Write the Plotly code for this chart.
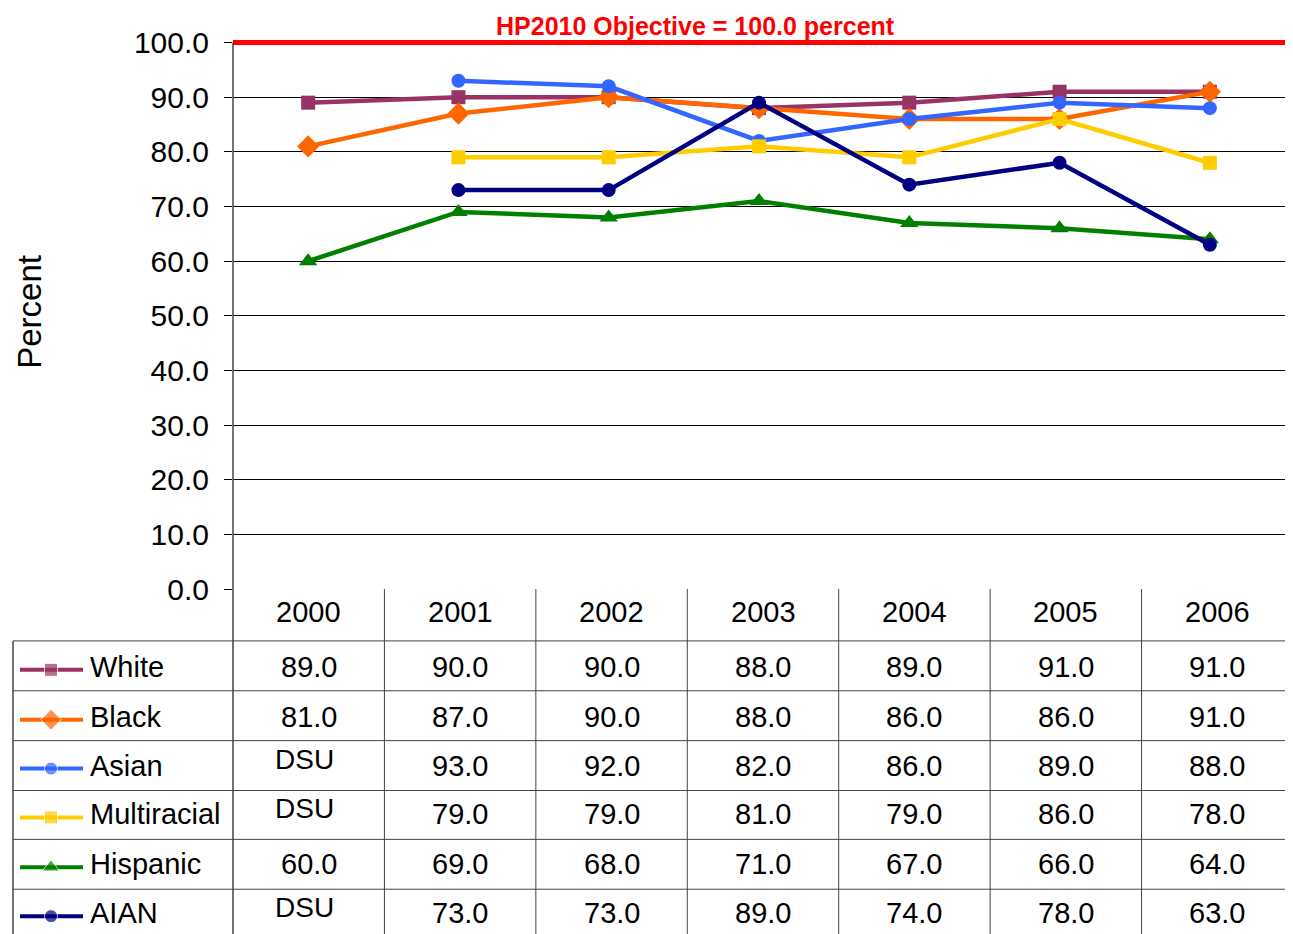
import plotly.graph_objects as go

years = ["2000", "2001", "2002", "2003", "2004", "2005", "2006"]
series_names = ["White", "Black", "Asian", "Multiracial", "Hispanic", "AIAN"]
white = [89.0, 90.0, 90.0, 88.0, 89.0, 91.0, 91.0]
black = [81.0, 87.0, 90.0, 88.0, 86.0, 86.0, 91.0]
asian = [None, 93.0, 92.0, 82.0, 86.0, 89.0, 88.0]
multiracial = [None, 79.0, 79.0, 81.0, 79.0, 86.0, 78.0]
hispanic = [60.0, 69.0, 68.0, 71.0, 67.0, 66.0, 64.0]
aian = [None, 73.0, 73.0, 89.0, 74.0, 78.0, 63.0]
objective = 100.0
y_ticks = [0, 10, 20, 30, 40, 50, 60, 70, 80, 90, 100]

series_values = [white, black, asian, multiracial, hispanic, aian]
colors = ["#993366", "#FF6600", "#3366FF", "#FFCC00", "#008000", "#000080"]
symbols = ["square", "diamond", "circle", "square", "triangle-up", "circle"]
msizes = [14, 17, 14, 14, 16, 14]

# page offset (body margin) and observed vertical mapping of the photograph
OFF = 8
VS, VB = 0.974, 8.6          # photo_y = VS * page_y + VB
W = 1293 - 2 * OFF
H = 942
PL, PR, PT, PB = 233, 1293, 40, 588
unit = (PB - PT) / 100.0
top_val = 101
top_px = PB - top_val * unit


def px(x):
    return (x - OFF) / W


def py(y):
    page_y = (y - VB) / VS
    return 1 - (page_y - OFF) / H


FONT = "Liberation Sans, Arial, sans-serif"

fig = go.Figure()
xi = list(range(len(years)))
for name, vals, c, s, ms in zip(series_names, series_values, colors, symbols, msizes):
    fig.add_trace(go.Scatter(
        x=xi, y=vals, mode="lines+markers", name=name,
        line=dict(color=c, width=4.5), marker=dict(symbol=s, size=ms, color=c),
        connectgaps=False, showlegend=False, cliponaxis=False,
        xaxis="x", yaxis="y"))

fig.add_trace(go.Scatter(x=[-0.5, 6.5], y=[objective, objective], mode="lines",
                         line=dict(color="#FF0000", width=5), showlegend=False,
                         hoverinfo="skip", xaxis="x", yaxis="y"))

shapes = []
annotations = []
line_col = "#444444"
shapes.append(dict(type="line", xref="paper", yref="paper", x0=px(PL), x1=px(PL),
                   y0=py(PT), y1=0, line=dict(color=line_col, width=1.5)))
col_w = (PR - PL) / len(years)
for k in range(1, len(years)):
    xb = PL + col_w * k
    shapes.append(dict(type="line", xref="paper", yref="paper", x0=px(xb), x1=px(xb),
                       y0=py(PB), y1=0, line=dict(color=line_col, width=1)))
row_lines = [640, 690, 740, 790, 839, 889]
for yl in row_lines:
    shapes.append(dict(type="line", xref="paper", yref="paper", x0=px(13), x1=1,
                       y0=py(yl), y1=py(yl), line=dict(color=line_col, width=1)))
shapes.append(dict(type="line", xref="paper", yref="paper", x0=px(13), x1=px(13),
                   y0=py(640), y1=0, line=dict(color=line_col, width=1.5)))

for i, yr in enumerate(years):
    annotations.append(dict(xref="paper", yref="paper", x=px(PL + col_w * (i + 0.5)), y=py(611),
                            text=yr, showarrow=False, xanchor="center", yanchor="middle",
                            font=dict(family=FONT, size=29, color="black")))
row_centers = [666, 716, 765, 814, 864, 913]
for r, (name, vals) in enumerate(zip(series_names, series_values)):
    yc = row_centers[r]
    annotations.append(dict(xref="paper", yref="paper", x=px(88), y=py(yc),
                            text=name, showarrow=False, xanchor="left", yanchor="middle",
                            font=dict(family=FONT, size=29, color="black")))
    for i, v in enumerate(vals):
        if v is None:
            annotations.append(dict(xref="paper", yref="paper", x=px(PL + col_w * (i + 0.5) - 4), y=py(yc - 6),
                                    text="DSU", showarrow=False, xanchor="center", yanchor="middle",
                                    font=dict(family=FONT, size=28, color="black")))
        else:
            annotations.append(dict(xref="paper", yref="paper", x=px(PL + col_w * (i + 0.5)), y=py(yc),
                                    text=f"{v:.1f}", showarrow=False, xanchor="center", yanchor="middle",
                                    font=dict(family=FONT, size=29, color="black")))
    c = colors[r]
    fig.add_trace(go.Scatter(x=[20, 51, 83], y=[yc + 3, yc + 3, yc + 3], mode="lines+markers",
                             line=dict(color=c, width=4),
                             marker=dict(symbol=symbols[r], size=[0, msizes[r] - 1, 0], color=c),
                             showlegend=False, hoverinfo="skip", cliponaxis=False,
                             xaxis="x2", yaxis="y2"))

annotations.append(dict(xref="paper", yref="paper", x=px(30), y=py(310), text="Percent",
                        textangle=-90, showarrow=False, xanchor="center", yanchor="middle",
                        font=dict(family=FONT, size=33, color="black")))
annotations.append(dict(xref="paper", yref="paper", x=px(695), y=py(23),
                        text="<b>HP2010 Objective = 100.0 percent</b>", showarrow=False,
                        xanchor="center", yanchor="middle",
                        font=dict(family="Liberation Sans Narrow, Arial Narrow, sans-serif", size=25, color="#FF0000")))

# overlay axis in reference-pixel units for legend samples
y2_top = VS * OFF + VB
y2_bot = VS * (OFF + H) + VB

fig.update_layout(
    width=W, height=H, margin=dict(l=0, r=0, t=0, b=0),
    paper_bgcolor="white", plot_bgcolor="rgba(0,0,0,0)",
    xaxis=dict(domain=[px(PL), 1], range=[-0.5, 6.5], showticklabels=False, showgrid=False,
               zeroline=False, showline=False, ticks="", anchor="y"),
    yaxis=dict(domain=[py(PB), py(top_px)], range=[0, top_val], tickvals=y_ticks,
               ticktext=[f"{t:.1f}" for t in y_ticks], showgrid=True, gridcolor="black", gridwidth=1,
               zeroline=False, showline=False, ticks="outside", ticklen=8, tickcolor="black",
               tickfont=dict(family=FONT, size=30, color="black"), ticklabelstandoff=9, anchor="x"),
    xaxis2=dict(domain=[0, 1], range=[OFF, OFF + W], visible=False, anchor="y2"),
    yaxis2=dict(domain=[0, 1], range=[y2_bot, y2_top], visible=False, anchor="x2"),
    shapes=shapes, annotations=annotations,
)

fig.write_html("out.html")
